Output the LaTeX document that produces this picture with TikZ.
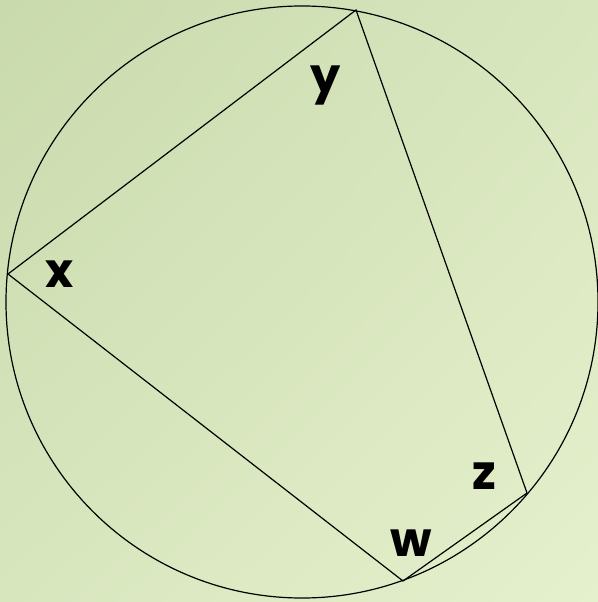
\documentclass[tikz,border=0pt]{standalone}
\usepackage{fontspec}
\setmainfont{Poppins}
\usetikzlibrary{shadings}
\definecolor{bgA}{RGB}{201,218,172}
\definecolor{bgM}{RGB}{216,230,190}
\definecolor{bgB}{RGB}{229,240,204}
\begin{document}
\begin{tikzpicture}[x=1bp,y=-1bp,
  edge/.style={black,line width=1.2bp},
  lab/.style={font=\fontsize{48}{48}\selectfont\bfseries,inner sep=0pt}]
\useasboundingbox (0,0) rectangle (598,602);
\shade[upper left=bgA,upper right=bgM,lower left=bgM,lower right=bgB] (0,0) rectangle (598,602);
\coordinate (O) at (302,302);
\draw[edge] (O) circle[radius=296bp];
\coordinate (X) at (8,274);
\coordinate (Y) at (356,10);
\coordinate (Z) at (527,493);
\coordinate (W) at (403,581);
\draw[edge] (X) -- (Y) -- (Z) -- (W) -- cycle;
\node[lab] (ly) at (326,85) {y};
\node[lab] (lx) at (60,274) {x};
\node[lab] (lz) at (484,476) {z};
\node[lab] (lw) at (411,543) {w};
\end{tikzpicture}
\end{document}
